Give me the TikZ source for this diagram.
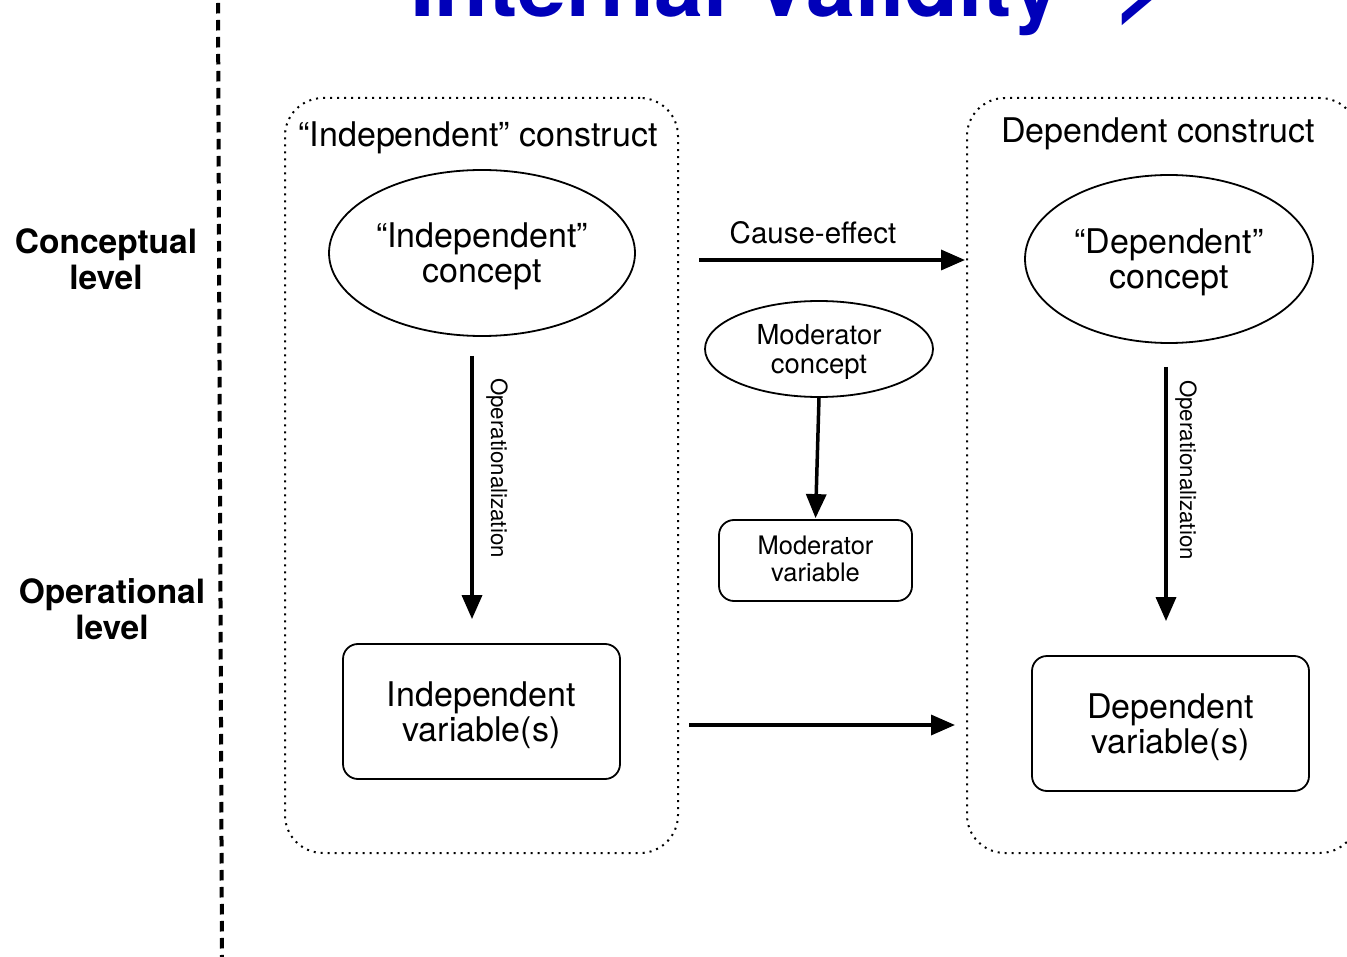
\documentclass[tikz,border=0pt]{standalone}
\usepackage{fontspec}
\setmainfont{TeX Gyre Heros}
\usetikzlibrary{arrows.meta,shapes.geometric}
\definecolor{titleblue}{RGB}{0,0,185}

\begin{document}
\begin{tikzpicture}[x=1pt,y=-1pt,
  big/.style={font=\fontsize{34}{35}\selectfont, align=center},
  level/.style={font=\fontsize{33.5}{36}\selectfont\bfseries, align=center, inner sep=0pt},
  construct/.style={draw, line width=2pt, dash pattern=on 2pt off 5pt,
    rounded corners=38pt, minimum height=755pt, minimum width=#1, inner sep=0pt},
  concept/.style={draw, ellipse, line width=1.8pt, inner sep=0pt, text depth=0pt, big},
  varbox/.style={draw, rectangle, rounded corners=15pt, line width=1.8pt, inner sep=0pt, text depth=0pt, big},
  arr/.style={-{Triangle[length=24pt,width=20pt]}, line width=3.5pt},
  oplabel/.style={rotate=-90, font=\fontsize{22.3}{24}\selectfont, inner sep=0pt},
  divider/.style={line width=4pt, dash pattern=on 10.5pt off 6.5pt}
]
\useasboundingbox (0,0) rectangle (1347,957);
\clip (0,0) rectangle (1347,957);

% heading, cut by the top edge
\node[anchor=base west, inner sep=0pt, text=titleblue,
      font=\fontsize{88}{90}\selectfont\bfseries] (title) at (410,17) {Internal Validity ->};

% divider between the level labels and the diagram
\coordinate (divtop) at (218,3);
\coordinate (divbot) at (222,960);
\draw[divider] (divtop) -- (divbot);

\node[level] (conc) at (106,259) {Conceptual\\level};
\node[level] (oper) at (112,609) {Operational\\level};

% construct frames
\node[construct=393pt] (iconstruct) at (481.5,475.5) {};
\node[construct=391pt] (dconstruct) at (1162.5,475.5) {};
\node[big, inner sep=0pt] (ilabel) at (478,138) {“Independent” construct};
\node[big, inner sep=0pt] (dlabel) at (1158,134) {Dependent construct};

% concepts
\node[concept, minimum width=306pt, minimum height=166pt] (iconcept) at (482,253) {“Independent”\\concept};
\node[concept, minimum width=288pt, minimum height=168pt] (dconcept) at (1169,259) {“Dependent”\\concept};
\node[concept, minimum width=228pt, minimum height=96pt,
      font=\fontsize{27.5}{29}\selectfont] (mconcept) at (819,349) {Moderator\\concept};

% variables
\node[varbox, minimum width=277pt, minimum height=135pt] (ivar) at (481.5,711.5) {Independent\\variable(s)};
\node[varbox, minimum width=277pt, minimum height=135pt] (dvar) at (1170.5,723.5) {Dependent\\variable(s)};
\node[varbox, minimum width=193pt, minimum height=81pt, text depth=4pt,
      font=\fontsize{25.5}{27}\selectfont] (mvar) at (815.5,560.5) {Moderator\\variable};

% operationalization arrows
\draw[arr, shorten <=19pt, shorten >=24pt] ([xshift=-10pt]iconcept.south) -- ([xshift=-9.5pt]ivar.north);
\node[oplabel] (iop) at (497,468) {Operationalization};
\draw[arr, shorten <=23pt, shorten >=34pt] ([xshift=-3pt]dconcept.south) -- ([xshift=-4.5pt]dvar.north);
\node[oplabel] (dop) at (1186,470) {Operationalization};

% moderator
\draw[arr, shorten >=1pt] (mconcept.south) -- (mvar.north);

% cause-effect links
\coordinate (cey) at (0,260);
\coordinate (vary) at (0,725);
\draw[arr] ([xshift=20pt]iconstruct.east |- cey) -- ([xshift=-1pt]dconstruct.west |- cey);
\node[font=\fontsize{29.5}{31}\selectfont, inner sep=0pt] (celabel) at (813,233) {Cause-effect};
\draw[arr] ([xshift=10pt]iconstruct.east |- vary) -- ([xshift=-11pt]dconstruct.west |- vary);
\end{tikzpicture}
\end{document}
